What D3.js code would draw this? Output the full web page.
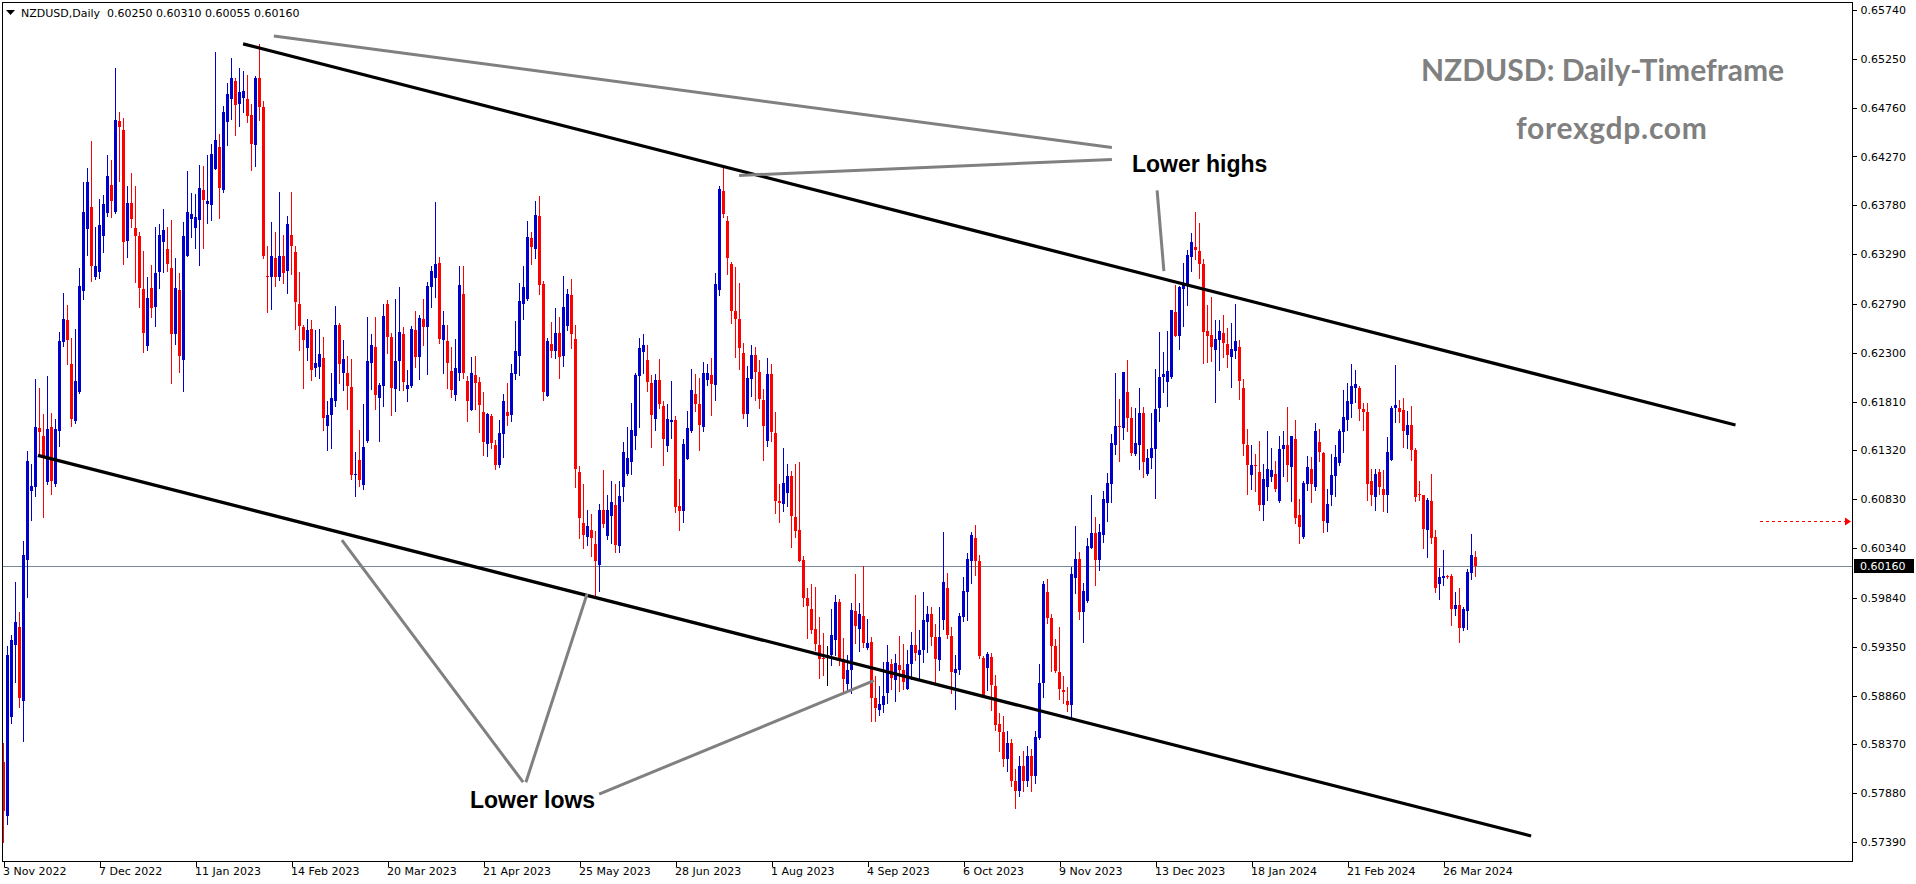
<!DOCTYPE html>
<html><head><meta charset="utf-8">
<script src="https://cdn.jsdelivr.net/npm/d3@7"></script>
<style>
html,body{margin:0;padding:0;background:#fff;overflow:hidden}
svg{display:block}
</style></head><body>
<svg id="c" width="1916" height="884"></svg>
<script>
// ---------- DATA (daily bars, 3 Nov 2022 .. early Apr 2024) ----------
const opens = [
.5819,.5765,.5864,.5937,.5955,.5881,.6022,.6091,.6095,.6154,
.6146,.6100,.6155,.6098,.6151,.6241,.6263,.6219,.6162,.6191,
.6292,.6354,.6376,.6306,.6311,.6347,.6370,.6398,.6371,.6463,
.6454,.6342,.6380,.6355,.6347,.6294,.6237,.6295,.6276,.6311,
.6341,.6334,.6315,.6249,.6293,.6223,.6327,.6364,.6355,.6363,
.6393,.6379,.6378,.6414,.6437,.6393,.6462,.6485,.6503,.6480,
.6486,.6485,.6469,.6439,.6506,.6477,.6307,.6306,.6325,.6306,
.6327,.6312,.6348,.6331,.6279,.6256,.6235,.6254,.6215,.6216,
.6225,.6156,.6168,.6182,.6258,.6210,.6210,.6196,.6107,.6122,
.6097,.6141,.6220,.6236,.6185,.6197,.6279,.6246,.6194,.6222,
.6249,.6194,.6197,.6253,.6226,.6264,.6256,.6296,.6305,.6320,
.6243,.6242,.6212,.6188,.6210,.6289,.6202,.6173,.6208,.6201,
.6171,.6138,.6167,.6137,.6117,.6148,.6171,.6168,.6209,.6227,
.6279,.6284,.6345,.6334,.6367,.6299,.6187,.6239,.6232,.6250,
.6227,.6257,.6288,.6244,.6110,.6059,.6045,.6052,.6038,.6017,
.6072,.6046,.6066,.6077,.6036,.6095,.6108,.6120,.6146,.6207,
.6231,.6223,.6200,.6164,.6203,.6177,.6136,.6161,.6163,.6076,
.6071,.6123,.6151,.6189,.6179,.6155,.6203,.6208,.6198,.6293,
.6392,.6362,.6319,.6272,.6264,.6230,.6169,.6204,.6228,.6211,
.6183,.6141,.6209,.6149,.6081,.6078,.6089,.6106,.6065,.6052,
.6022,.5984,.5973,.5953,.5937,.5924,.5927,.5927,.5942,.5980,
.5923,.5898,.5912,.5971,.5953,.5966,.5934,.5940,.5884,.5871,
.5876,.5889,.5918,.5902,.5917,.5912,.5893,.5918,.5937,.5927,
.5932,.5960,.5968,.5945,.5922,.5962,.5994,.5946,.5909,.5912,
.5965,.5990,.6021,.6044,.6021,.5924,.5914,.5925,.5896,.5857,
.5849,.5822,.5838,.5800,.5790,.5815,.5800,.5825,.5805,.5843,
.5899,.5990,.5964,.5936,.5910,.5892,.5881,.5876,.6004,.6023,
.5970,.5981,.6034,.6049,.6022,.6047,.6079,.6098,.6137,.6157,
.6154,.6191,.6165,.6128,.6137,.6170,.6108,.6124,.6133,.6175,
.6206,.6201,.6206,.6271,.6247,.6294,.6297,.6326,.6336,.6332,
.6319,.6252,.6248,.6233,.6243,.6250,.6239,.6226,.6232,.6236,
.6195,.6137,.6107,.6117,.6110,.6077,.6095,.6105,.6108,.6081,
.6133,.6137,.6115,.6143,.6067,.6045,.6098,.6113,.6095,.6140,
.6129,.6059,.6087,.6106,.6119,.6150,.6163,.6179,.6195,.6195,
.6174,.6171,.6101,.6085,.6110,.6093,.6087,.6122,.6175,.6175,
.6173,.6147,.6158,.6132,.6088,.6087,.6052,.6081,.6045,.5998,
.6004,.6006,.6006,.5973,.5977,.5954,.5971,.6009,.6025];
const highs = [
.5838,.5936,.5947,.6000,.5970,.6041,.6131,.6118,.6204,.6195,
.6169,.6207,.6170,.6164,.6251,.6290,.6278,.6245,.6254,.6315,
.6401,.6415,.6443,.6356,.6384,.6388,.6428,.6423,.6516,.6472,
.6466,.6397,.6410,.6397,.6351,.6332,.6306,.6318,.6356,.6359,
.6374,.6356,.6363,.6325,.6310,.6361,.6412,.6390,.6389,.6418,
.6417,.6428,.6440,.6532,.6450,.6478,.6501,.6526,.6506,.6516,
.6513,.6509,.6480,.6508,.6540,.6483,.6337,.6361,.6351,.6391,
.6348,.6367,.6391,.6337,.6311,.6258,.6264,.6263,.6253,.6254,
.6246,.6182,.6210,.6277,.6260,.6243,.6227,.6224,.6130,.6152,
.6179,.6266,.6249,.6266,.6200,.6279,.6283,.6250,.6284,.6296,
.6256,.6213,.6257,.6272,.6268,.6284,.6301,.6317,.6381,.6326,
.6272,.6258,.6236,.6244,.6317,.6317,.6207,.6226,.6227,.6206,
.6191,.6170,.6169,.6142,.6163,.6189,.6200,.6219,.6262,.6300,
.6317,.6362,.6351,.6382,.6387,.6302,.6245,.6261,.6275,.6266,
.6307,.6294,.6304,.6258,.6116,.6098,.6072,.6068,.6051,.6078,
.6112,.6087,.6101,.6098,.6101,.6140,.6155,.6180,.6210,.6245,
.6249,.6238,.6208,.6209,.6224,.6182,.6179,.6202,.6167,.6103,
.6143,.6172,.6214,.6209,.6205,.6221,.6219,.6225,.6310,.6397,
.6415,.6367,.6321,.6316,.6300,.6240,.6217,.6238,.6236,.6223,
.6194,.6225,.6219,.6171,.6098,.6134,.6118,.6111,.6118,.6120,
.6026,.5994,.5998,.5995,.5965,.5949,.5936,.5973,.5987,.5983,
.5944,.5927,.5979,.6008,.5979,.6016,.5963,.5945,.5906,.5896,
.5920,.5937,.5923,.5928,.5946,.5938,.5932,.5950,.5987,.5952,
.5990,.5976,.5975,.5958,.5975,.6050,.6009,.5955,.5927,.5969,
.6005,.6029,.6050,.6057,.6027,.5926,.5930,.5929,.5907,.5868,
.5865,.5850,.5842,.5812,.5825,.5830,.5835,.5832,.5850,.5918,
.6001,.6003,.5968,.5943,.5955,.5906,.5895,.6015,.6056,.6030,
.5999,.6044,.6087,.6065,.6058,.6091,.6109,.6148,.6210,.6184,
.6211,.6223,.6176,.6175,.6195,.6176,.6133,.6170,.6214,.6251,
.6231,.6252,.6273,.6298,.6297,.6320,.6333,.6350,.6371,.6360,
.6324,.6278,.6286,.6263,.6263,.6268,.6255,.6260,.6279,.6243,
.6204,.6153,.6137,.6128,.6141,.6118,.6151,.6134,.6121,.6146,
.6151,.6176,.6146,.6163,.6083,.6101,.6126,.6125,.6160,.6153,
.6130,.6093,.6128,.6137,.6153,.6193,.6200,.6219,.6213,.6197,
.6180,.6180,.6113,.6113,.6113,.6112,.6145,.6177,.6218,.6183,
.6185,.6172,.6177,.6134,.6101,.6087,.6084,.6108,.6052,.6014,
.6032,.6007,.6008,.5990,.5994,.5975,.6013,.6048,.6031];
const lows = [
.5739,.5757,.5858,.5900,.5874,.5840,.5985,.6062,.6086,.6128,
.6065,.6098,.6088,.6096,.6136,.6237,.6219,.6157,.6160,.6190,
.6284,.6328,.6302,.6304,.6305,.6331,.6367,.6366,.6370,.6402,
.6319,.6326,.6356,.6301,.6276,.6231,.6233,.6266,.6257,.6295,
.6311,.6312,.6200,.6239,.6211,.6192,.6327,.6346,.6335,.6318,
.6335,.6360,.6363,.6414,.6365,.6391,.6439,.6465,.6449,.6458,
.6472,.6462,.6413,.6417,.6464,.6325,.6271,.6274,.6297,.6303,
.6300,.6290,.6309,.6254,.6233,.6195,.6223,.6203,.6207,.6205,
.6152,.6132,.6134,.6177,.6200,.6193,.6174,.6103,.6086,.6096,
.6093,.6140,.6194,.6174,.6141,.6177,.6230,.6168,.6172,.6193,
.6193,.6182,.6196,.6216,.6204,.6238,.6209,.6276,.6286,.6240,
.6210,.6195,.6186,.6183,.6203,.6205,.6162,.6173,.6174,.6150,
.6127,.6126,.6134,.6113,.6115,.6125,.6158,.6162,.6204,.6208,
.6264,.6283,.6319,.6325,.6289,.6183,.6187,.6226,.6225,.6205,
.6217,.6253,.6235,.6095,.6044,.6034,.6037,.6026,.5986,.5991,
.6055,.6043,.6039,.6030,.6030,.6081,.6107,.6108,.6133,.6155,
.6210,.6192,.6135,.6152,.6175,.6117,.6131,.6144,.6070,.6052,
.6060,.6123,.6150,.6172,.6132,.6151,.6198,.6168,.6183,.6288,
.6366,.6309,.6260,.6226,.6214,.6165,.6157,.6187,.6183,.6175,
.6122,.6136,.6141,.6069,.6060,.6071,.6076,.6035,.6045,.6021,
.5976,.5944,.5949,.5932,.5904,.5907,.5897,.5917,.5927,.5917,
.5889,.5893,.5889,.5939,.5931,.5935,.5933,.5860,.5860,.5866,
.5869,.5879,.5893,.5881,.5891,.5893,.5893,.5903,.5922,.5903,
.5920,.5930,.5937,.5900,.5912,.5953,.5944,.5889,.5872,.5908,
.5961,.5962,.5999,.6007,.5924,.5885,.5892,.5871,.5851,.5830,
.5815,.5810,.5795,.5773,.5785,.5790,.5795,.5790,.5798,.5842,
.5885,.5959,.5911,.5910,.5883,.5879,.5870,.5862,.5989,.5963,
.5940,.5980,.6034,.5997,.6012,.6040,.6061,.6080,.6128,.6121,
.6143,.6151,.6127,.6127,.6113,.6105,.6107,.6114,.6084,.6162,
.6191,.6177,.6205,.6247,.6234,.6257,.6278,.6312,.6324,.6305,
.6220,.6221,.6222,.6181,.6213,.6226,.6216,.6196,.6225,.6184,
.6127,.6088,.6093,.6091,.6072,.6062,.6082,.6101,.6091,.6080,
.6106,.6101,.6081,.6059,.6039,.6044,.6092,.6080,.6092,.6121,
.6050,.6051,.6077,.6086,.6117,.6130,.6152,.6166,.6181,.6163,
.6152,.6082,.6077,.6072,.6088,.6071,.6070,.6122,.6161,.6161,
.6135,.6134,.6122,.6081,.6082,.6034,.6025,.6039,.5990,.5983,
.5997,.6004,.5957,.5967,.5940,.5952,.5953,.6003,.60055];
const closes = [
.5770,.5927,.5942,.5960,.5884,.6027,.6121,.6096,.6155,.6150,
.6126,.6153,.6101,.6153,.6242,.6264,.6243,.6164,.6202,.6297,
.6371,.6401,.6317,.6317,.6358,.6379,.6407,.6382,.6464,.6457,
.6341,.6380,.6364,.6347,.6295,.6250,.6285,.6275,.6310,.6348,
.6353,.6319,.6249,.6295,.6227,.6347,.6371,.6369,.6366,.6395,
.6383,.6382,.6429,.6444,.6395,.6472,.6490,.6506,.6479,.6492,
.6493,.6468,.6440,.6506,.6477,.6327,.6306,.6327,.6306,.6327,
.6310,.6359,.6337,.6281,.6257,.6243,.6253,.6213,.6220,.6229,
.6165,.6168,.6185,.6258,.6219,.6224,.6197,.6107,.6108,.6102,
.6135,.6222,.6238,.6188,.6198,.6267,.6246,.6195,.6222,.6251,
.6201,.6198,.6254,.6226,.6265,.6256,.6297,.6312,.6319,.6244,
.6258,.6220,.6193,.6215,.6298,.6210,.6182,.6210,.6200,.6178,
.6140,.6169,.6139,.6117,.6149,.6182,.6167,.6210,.6232,.6282,
.6296,.6346,.6336,.6368,.6298,.6191,.6242,.6232,.6250,.6226,
.6276,.6289,.6249,.6113,.6064,.6047,.6056,.6044,.6021,.6072,
.6058,.6072,.6080,.6037,.6086,.6130,.6124,.6152,.6208,.6235,
.6238,.6201,.6168,.6203,.6179,.6143,.6164,.6163,.6075,.6071,
.6138,.6154,.6193,.6179,.6158,.6210,.6210,.6199,.6299,.6394,
.6369,.6325,.6272,.6264,.6235,.6169,.6205,.6228,.6211,.6184,
.6157,.6209,.6150,.6081,.6079,.6099,.6106,.6066,.6051,.6021,
.5984,.5976,.5952,.5938,.5923,.5923,.5927,.5947,.5980,.5923,
.5903,.5912,.5972,.5956,.5968,.5939,.5939,.5884,.5873,.5877,
.5886,.5920,.5904,.5919,.5912,.5900,.5918,.5937,.5929,.5932,
.5962,.5968,.5945,.5923,.5945,.6000,.5947,.5910,.5913,.5966,
.5991,.6023,.6047,.6021,.5926,.5887,.5928,.5897,.5856,.5849,
.5822,.5838,.5800,.5790,.5815,.5800,.5825,.5805,.5844,.5899,
.5998,.5964,.5936,.5911,.5893,.5890,.5876,.6008,.6023,.5970,
.5991,.6036,.6049,.6022,.6050,.6083,.6099,.6139,.6157,.6155,
.6211,.6165,.6129,.6139,.6170,.6120,.6124,.6134,.6174,.6206,
.6209,.6212,.6273,.6247,.6296,.6298,.6328,.6341,.6333,.6319,
.6251,.6247,.6236,.6244,.6252,.6240,.6228,.6234,.6242,.6202,
.6138,.6117,.6117,.6116,.6077,.6103,.6113,.6112,.6093,.6133,
.6137,.6117,.6146,.6064,.6055,.6099,.6115,.6098,.6151,.6130,
.6061,.6078,.6107,.6125,.6151,.6166,.6182,.6197,.6199,.6174,
.6171,.6098,.6087,.6108,.6095,.6087,.6130,.6175,.6178,.6171,
.6151,.6158,.6132,.6085,.6087,.6053,.6082,.6044,.5994,.6005,
.6006,.6005,.5973,.5977,.5954,.5973,.6010,.6027,.6016];

const yTickValues = [0.65740,0.65250,0.64760,0.64270,0.63780,0.63290,0.62790,0.62300,0.61810,
  0.61320,0.60830,0.60340,0.59840,0.59350,0.58860,0.58370,0.57880,0.57390];
const xTickBars = [0,24,48,72,96,120,144,168,192,216,240,264,288,312,336,360];
const xTickLabels = ["3 Nov 2022","7 Dec 2022","11 Jan 2023","14 Feb 2023","20 Mar 2023","21 Apr 2023",
  "25 May 2023","28 Jun 2023","1 Aug 2023","4 Sep 2023","6 Oct 2023","9 Nov 2023","13 Dec 2023",
  "18 Jan 2024","21 Feb 2024","26 Mar 2024"];
const headerText = "NZDUSD,Daily  0.60250 0.60310 0.60055 0.60160";
const currentPrice = 0.60160;
const markerPrice = 0.6061;
// channel lines and pointer lines, as [bar, price] pairs
const channelLines = [
  [[59.9,0.6540],[433,0.61575]],
  [[8.6,0.61270],[381.9,0.57450]]
];
const pointerLines = [
  [[67.6,0.6548],[277.1,0.6436]],
  [[183.9,0.6408],[277.1,0.6424]],
  [[288.4,0.6393],[290.1,0.6312]],
  [[84.6,0.6042],[129.9,0.5799]],
  [[145.9,0.5988],[130.6,0.5799]],
  [[148.9,0.5787],[217.6,0.5901]]
];
const notes = [
  {text:"Lower highs", bar:282.1, price:0.6411},
  {text:"Lower lows", bar:116.6, price:0.5773}
];

// ---------- DRAW ----------
const svg = d3.select("#c");
const L = 2, R = 1852, T = 2, B = 861;
const x = d3.scaleLinear().domain([0, 368]).range([3.5, 1475.5]);
const y = d3.scaleLinear().domain([0.5739, 0.6574]).range([842, 10]);
const FONT = "'DejaVu Sans', Verdana, sans-serif";

svg.append("rect").attr("width",1916).attr("height",884).attr("fill","#fff");

// current price line
svg.append("line").attr("x1",L).attr("x2",R)
  .attr("y1",Math.round(y(currentPrice))+0.5).attr("y2",Math.round(y(currentPrice))+0.5)
  .attr("stroke","#778899").attr("stroke-width",1);

const bars = d3.range(opens.length).map(i => ({i, o:opens[i], h:highs[i], l:lows[i], c:closes[i]}));
const col = d => d.c > d.o ? "#0000cd" : (d.c < d.o ? "#ff0000" : "#000000");
const cg = svg.append("g").attr("shape-rendering","crispEdges");
cg.selectAll("line.w").data(bars).join("line").attr("class","w")
  .attr("x1",d=>x(d.i)).attr("x2",d=>x(d.i))
  .attr("y1",d=>Math.round(y(d.h))).attr("y2",d=>Math.round(y(d.l))+1)
  .attr("stroke",col).attr("stroke-width",1);
cg.selectAll("rect.b").data(bars).join("rect").attr("class","b")
  .attr("x",d=>x(d.i)-1.5).attr("width",3)
  .attr("y",d=>Math.round(y(Math.max(d.o,d.c))))
  .attr("height",d=>Math.max(1, Math.round(y(Math.min(d.o,d.c))) - Math.round(y(Math.max(d.o,d.c)))))
  .attr("fill",col);

// channel lines
const lg = d3.line().x(p=>x(p[0])).y(p=>y(p[1]));
svg.selectAll("path.ch").data(channelLines).join("path").attr("class","ch")
  .attr("d",lg).attr("stroke","#000").attr("stroke-width",3.2).attr("fill","none");
svg.selectAll("path.pt").data(pointerLines).join("path").attr("class","pt")
  .attr("d",lg).attr("stroke","#808080").attr("stroke-width",3).attr("fill","none");

// notes
svg.selectAll("text.note").data(notes).join("text").attr("class","note")
  .attr("x",d=>x(d.bar)).attr("y",d=>y(d.price))
  .attr("font-family","'Liberation Sans', Arial, sans-serif").attr("font-weight","bold")
  .attr("font-size",23).attr("fill","#000").text(d=>d.text);

// titles
svg.append("text").attr("x",1421).attr("y",81).attr("font-family","Lato, sans-serif")
  .attr("font-weight","bold").attr("font-size",30).attr("fill","#808080").text("NZDUSD: Daily-Timeframe");
svg.append("text").attr("x",1516).attr("y",139).attr("font-family","Lato, sans-serif")
  .attr("font-weight","bold").attr("font-size",30).attr("letter-spacing",0.7).attr("fill","#808080").text("forexgdp.com");

// frame
svg.append("rect").attr("x",L+0.5).attr("y",T+0.5).attr("width",R-L).attr("height",B-T)
  .attr("fill","none").attr("stroke","#000").attr("stroke-width",1);

// header
svg.append("path").attr("d","M6,10 L15,10 L10.5,15 Z").attr("fill","#000");
svg.append("text").attr("x",21).attr("y",17).attr("font-family",FONT).attr("font-size",11)
  .attr("fill","#000").attr("xml:space","preserve").style("white-space","pre").text(headerText);

// y axis
const ya = svg.append("g").attr("transform",`translate(${R+0.5},0)`)
  .call(d3.axisRight(y).tickValues(yTickValues).tickSize(4).tickPadding(4).tickFormat(d3.format(".5f")));
ya.select(".domain").remove();
ya.selectAll("text").attr("font-family",FONT).attr("font-size",11).attr("fill","#000");
ya.selectAll("line").attr("stroke","#000").attr("shape-rendering","crispEdges");

// current price label
const cy = y(currentPrice);
svg.append("rect").attr("x",R+2).attr("y",Math.round(cy)-7).attr("width",60).attr("height",14).attr("fill","#000");
svg.append("text").attr("x",R+8).attr("y",cy).attr("dy","0.35em").attr("font-family",FONT)
  .attr("font-size",11).attr("fill","#fff").text(d3.format(".5f")(currentPrice));

// red marker arrow
const my = Math.round(y(markerPrice))+0.5;
svg.append("line").attr("x1",1760).attr("x2",1846).attr("y1",my).attr("y2",my)
  .attr("stroke","#ff0000").attr("stroke-width",1).attr("stroke-dasharray","3,3");
svg.append("path").attr("d",`M1845,${my-4} L1851,${my} L1845,${my+4} Z`).attr("fill","#ff0000");

// x axis
const xa = svg.append("g").attr("transform",`translate(0,${B+0.5})`)
  .call(d3.axisBottom(x).tickValues(xTickBars).tickSize(5).tickFormat((d,i)=>xTickLabels[i]));
xa.select(".domain").remove();
xa.selectAll("line").attr("stroke","#000").attr("shape-rendering","crispEdges");
xa.selectAll("text").attr("text-anchor","start").attr("x",-1).attr("y",6).attr("dy","0.71em")
  .attr("font-family",FONT).attr("font-size",11).attr("fill","#000");
</script>
</body></html>
